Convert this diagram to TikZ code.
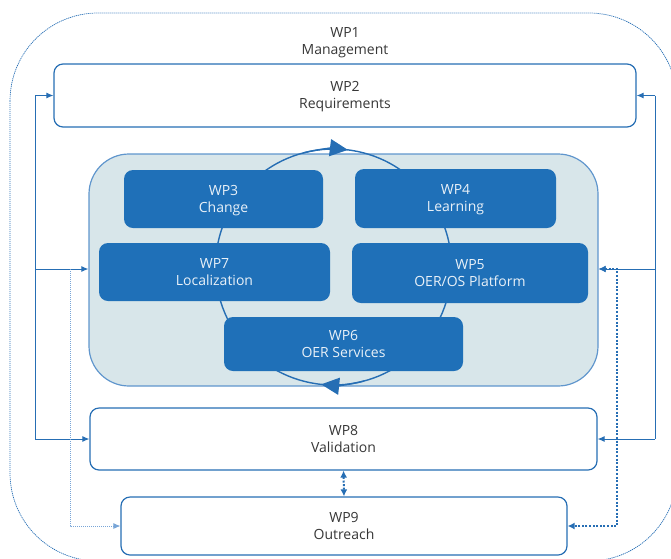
\documentclass[tikz,border=0pt]{standalone}
\usepackage{fontspec}
\setmainfont{Open Sans}
\usetikzlibrary{arrows.meta,calc}
\definecolor{wpline}{RGB}{38,110,180}
\definecolor{wpdark}{RGB}{31,112,184}
\definecolor{panelfill}{RGB}{216,230,234}
\definecolor{panelline}{RGB}{96,150,205}
\definecolor{labelgray}{RGB}{55,55,55}
\definecolor{hintline}{RGB}{120,165,215}
\begin{document}
\begin{tikzpicture}[x=1pt,y=-1pt]
        \tikzset{
            wpbox/.style={draw=wpline,line width=1.2pt,rounded corners=9pt,fill=white,
                          align=center,text=labelgray,text depth=0.5pt,
                          font=\fontsize{14}{17}\selectfont},
            wpdark/.style={fill=wpdark,rounded corners=9pt,align=center,text depth=0.5pt,
                           text=white!90!wpdark,font=\fontsize{14}{17}\selectfont},
            bus/.style={draw=wpline,line width=1pt,-{Latex[length=7pt,width=6pt]}},
            hint/.style={draw=hintline,line width=0.8pt,dash pattern=on 1pt off 1pt,
                         -{Latex[length=7pt,width=6pt]}},
            link/.style={draw=wpline,line width=2pt,dash pattern=on 2pt off 1.6pt,
                         {Latex[length=7pt,width=7pt]}-{Latex[length=7pt,width=7pt]}},
            ring/.style={draw=wpline,line width=1.4pt}
        }
        \useasboundingbox (0,0) rectangle (671,558);
        \clip (0,0) rectangle (671,558);

        % WP1 frame
        \draw[wpline,line width=0.7pt,dash pattern=on 1.2pt off 0.8pt,rounded corners=88pt]
            (10,13) rectangle (677,561);
        \node[align=center,text=labelgray,text depth=0.5pt,font=\fontsize{14}{17}\selectfont] (wp1) at (345,41) {WP1\\Management};

        \node[wpbox,minimum width=582pt,minimum height=63pt] (wp2) at (345,95.5) {WP2\\Requirements};

        % core work packages
        \node[draw=panelline,fill=panelfill,line width=1.2pt,rounded corners=40pt,
              minimum width=509pt,minimum height=232pt] (core) at (343.5,270) {};
        \draw[ring] (333.5,267) circle[radius=118];
        \draw[ring,-{Triangle[length=18pt,width=17pt]}] ($(333.5,267)+(255:118)$) arc[start angle=255,end angle=277,radius=118];
        \draw[ring,-{Triangle[length=18pt,width=17pt]}] ($(333.5,267)+(75:118)$) arc[start angle=75,end angle=96,radius=118];

        \node[wpdark,minimum width=199pt,minimum height=58pt] (wp3) at (223.5,199) {WP3\\Change};
        \node[wpdark,minimum width=201pt,minimum height=59pt] (wp4) at (455.5,198.5) {WP4\\Learning};
        \node[wpdark,minimum width=231pt,minimum height=58pt] (wp7) at (214.5,272) {WP7\\Localization};
        \node[wpdark,minimum width=236pt,minimum height=60pt] (wp5) at (470,273) {WP5\\OER/OS Platform};
        \node[wpdark,minimum width=239pt,minimum height=54pt] (wp6) at (343.5,344) {WP6\\OER Services};

        \node[wpbox,minimum width=507pt,minimum height=62pt] (wp8) at (343.5,439) {WP8\\Validation};
        \node[wpbox,minimum width=446pt,minimum height=58pt] (wp9) at (344,526) {WP9\\Outreach};

        % management bus
        \coordinate (lt) at (35,95.5);
        \coordinate (lm) at (35,269);
        \coordinate (lb) at (35,439);
        \coordinate (rt) at (655,95.5);
        \coordinate (rm) at (655,269);
        \coordinate (rb) at (655,439);
        \draw[wpline,line width=1pt] (lt) -- (lb);
        \draw[wpline,line width=1pt] (rt) -- (rb);
        \draw[bus] (lt) -- (wp2.west);
        \draw[bus] (rt) -- (wp2.east);
        \draw[bus] (lm) -- (lm -| core.west);
        \draw[bus] (rm) -- (rm -| core.east);
        \draw[bus] (lb) -- (wp8.west);
        \draw[bus] (rb) -- (wp8.east);

        % outreach links
        \coordinate (ht) at (70,269);
        \draw[hint] (ht) |- (wp9.west);
        \coordinate (dt) at (617,269);
        \draw[link] (dt -| core.east) -- (dt) |- (wp9.east);
        \draw[link] (wp8.south) -- (wp9.north);

    \end{tikzpicture}
\end{document}
